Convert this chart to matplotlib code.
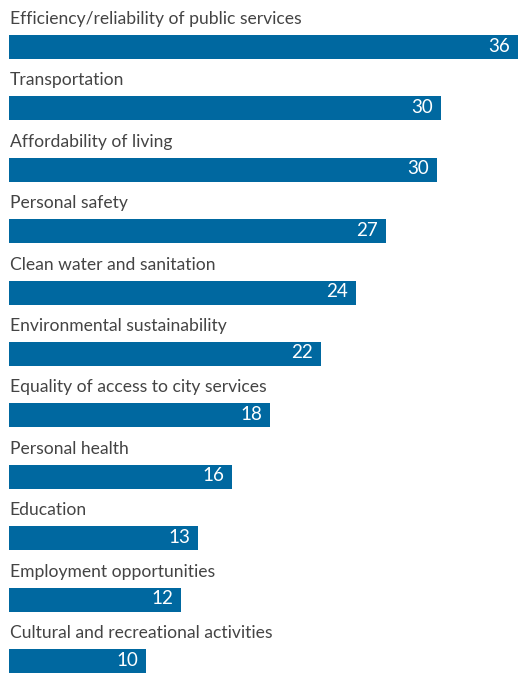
import matplotlib.pyplot as plt
import numpy as np

# categories, top to bottom
categories = [
    "Efficiency/reliability of public services",
    "Transportation",
    "Affordability of living",
    "Personal safety",
    "Clean water and sanitation",
    "Environmental sustainability",
    "Equality of access to city services",
    "Personal health",
    "Education",
    "Employment opportunities",
    "Cultural and recreational activities",
]
# shown labels
values = [36, 30, 30, 27, 24, 22, 18, 16, 13, 12, 10]
# bar lengths (labels are rounded)
lengths = [36.0, 30.55, 30.27, 26.66, 24.54, 22.07, 18.46, 15.77, 13.37, 12.16, 9.69]

bar_color = "#0068a0"
text_color = "#444444"
plt.rcParams["font.family"] = ["Lato", "DejaVu Sans"]

W, H = 518, 673
fig = plt.figure(figsize=(W / 100, H / 100), dpi=100)
ax = fig.add_axes([0, 0, 1, 1])

# y in pixel-like units, top down
pitch = 61.4
bar_h = 24
y = 47 + pitch * np.arange(len(categories))

ax.barh(y, lengths, height=bar_h, color=bar_color, left=0)

px = 36 / 509  # data units per pixel
for yi, cat, v, L in zip(y, categories, values, lengths):
    ax.text(0.05, yi - bar_h / 2 - 11, cat, ha="left", va="baseline",
            fontsize=12.6, color=text_color)
    ax.text(L - 8 * px, yi - 1, str(v), ha="right", va="center",
            fontsize=13.5, color="white")

ax.set_xlim(-9 * px, 36)
ax.set_ylim(H, 0)
ax.axis("off")

fig.savefig("out.png", dpi=100)
